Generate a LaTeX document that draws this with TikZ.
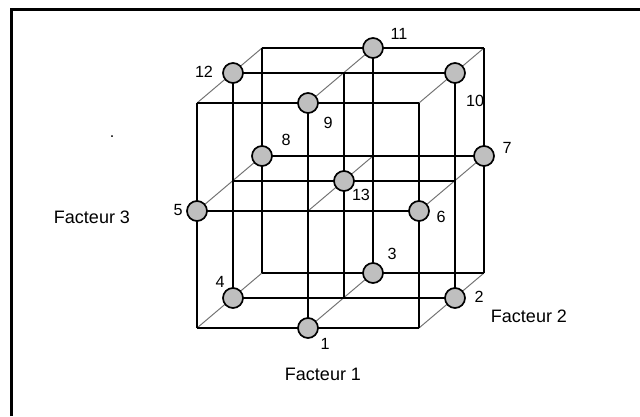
\documentclass[tikz,border=0pt]{standalone}
\usepackage{fontspec}
\setmainfont{Liberation Sans}
\begin{document}
\begin{tikzpicture}[x=0.025cm, y=-0.025cm,
  pt/.style={circle, draw, line width=1.2pt, fill=black!25, minimum size=0.5cm, inner sep=0pt},
  num/.style={inner sep=0pt, font=\fontsize{11.5}{13}\selectfont},
  fac/.style={inner sep=0pt, font=\fontsize{12.8}{15}\selectfont},
  edge/.style={line width=1.15pt},
  depth/.style={line width=0.7pt, black!55}]
\useasboundingbox (0,0) rectangle (640,416);
\draw[line width=2.2pt] (11.7,416) |- (640,9.5);
% lattice corners: c<u><depth><height>
\foreach \i/\u in {0/0,1/0.5,2/1}
  \foreach \j/\dx/\dy in {0/0/0,1/36/-30,2/65/-55}
    \foreach \k/\w in {0/0,1/0.52,2/1}
      \coordinate (c\i\j\k) at ({197+\u*222+\dx},{328-\w*225+\dy});
\foreach \a in {0,1,2} {\foreach \b in {0,1,2} {\draw[depth] (c\a0\b) -- (c\a2\b);}}
\foreach \a in {0,1,2} {\foreach \b in {0,1,2} {\draw[edge] (c0\a\b) -- (c2\a\b); \draw[edge] (c\a\b0) -- (c\a\b2);}}
% runs
\node[pt] (p1) at (c100) {};
\node[pt] (p2) at (c210) {};
\node[pt] (p3) at (c120) {};
\node[pt] (p4) at (c010) {};
\node[pt] (p5) at (c001) {};
\node[pt] (p6) at (c201) {};
\node[pt] (p7) at (c221) {};
\node[pt] (p8) at (c021) {};
\node[pt] (p9) at (c102) {};
\node[pt] (p10) at (c212) {};
\node[pt] (p11) at (c122) {};
\node[pt] (p12) at (c012) {};
\node[pt] (p13) at (c111) {};
\node[num] (t1) at (325,344) {1};
\node[num] (t2) at (479,297) {2};
\node[num] (t3) at (392,254) {3};
\node[num] (t4) at (220,282) {4};
\node[num] (t5) at (178,210) {5};
\node[num] (t6) at (441,217) {6};
\node[num] (t7) at (507,148) {7};
\node[num] (t8) at (286,140) {8};
\node[num] (t9) at (328,123) {9};
\node[num] (t10) at (475,101) {10};
\node[num] (t11) at (399,34) {11};
\node[num] (t12) at (204,72) {12};
\node[num] (t13) at (361,195) {13};
\node[num] (dot) at (112,137) {.};
\node[fac] (f1) at (323,374) {Facteur 1};
\node[fac] (f2) at (529,316) {Facteur 2};
\node[fac] (f3) at (92,217) {Facteur 3};
\end{tikzpicture}
\end{document}
